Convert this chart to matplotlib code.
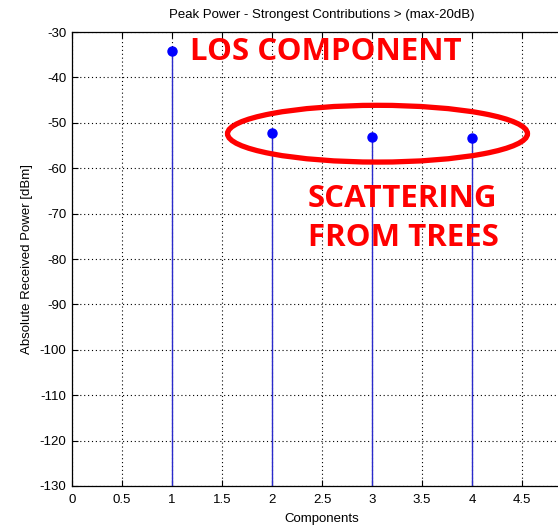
import matplotlib
matplotlib.use("Agg")
import matplotlib.pyplot as plt
from matplotlib.patches import Ellipse

# Peak power of the strongest multipath contributions
components = [1, 2, 3, 4]
power_dbm = [-34.2, -52.2, -53.1, -53.4]

x_ticks = [0, 0.5, 1, 1.5, 2, 2.5, 3, 3.5, 4, 4.5]
x_tick_labels = ["0", "0.5", "1", "1.5", "2", "2.5", "3", "3.5", "4", "4.5"]
y_ticks = [-130, -120, -110, -100, -90, -80, -70, -60, -50, -40, -30]
y_tick_labels = [str(v) for v in y_ticks]

title = "Peak Power - Strongest Contributions > (max-20dB)"
x_label = "Components"
y_label = "Absolute Received Power [dBm]"
los_label = "LOS COMPONENT"
scatter_label = "SCATTERING\nFROM TREES"

W, H = 558, 527
fig = plt.figure(figsize=(W / 100, H / 100), dpi=100)
fig.patch.set_facecolor("white")

left_px, right_px, top_px, bottom_px = 72, 572, 32, 486
ax = fig.add_axes([left_px / W, 1 - bottom_px / H,
                   (right_px - left_px) / W, (bottom_px - top_px) / H])

ax.set_xlim(0, 5)
ax.set_ylim(-130, -30)

markerline, stemlines, baseline = ax.stem(components, power_dbm, bottom=-130,
                                          basefmt=" ")
plt.setp(stemlines, color="#2a2acc", linewidth=1.0)
plt.setp(markerline, color="#0000ff", marker="o", markersize=6.5,
         markerfacecolor="#0000ff", markeredgecolor="#0000ff")

tick_font = {"family": "Liberation Sans", "size": 9.5}
ax.set_xticks(x_ticks)
ax.set_xticklabels(x_tick_labels, fontdict=tick_font)
ax.set_yticks(y_ticks)
ax.set_yticklabels(y_tick_labels, fontdict=tick_font)
ax.tick_params(direction="in", length=4, width=0.8, colors="black",
               top=True, right=False)
ax.tick_params(axis="x", pad=6)
ax.tick_params(axis="y", pad=4)

ax.grid(True, color="black", linestyle=(0, (1, 2.5)), linewidth=0.8)
for side in ("left", "bottom", "top"):
    ax.spines[side].set_linewidth(0.9)
ax.spines["right"].set_visible(False)

ax.set_title(title, fontsize=9.5, family="Liberation Sans", pad=10)
ax.set_xlabel(x_label, fontsize=9.5, family="Liberation Sans", labelpad=5)
ax.set_ylabel(y_label, fontsize=9.5, family="Liberation Sans", labelpad=5)

# Annotations
ax.text(1.18, -34.4, los_label, color="red", fontsize=22.5, fontweight="bold",
        family="Open Sans", ha="left", va="center")
ax.text(2.36, -71.0, scatter_label, color="red", fontsize=22.5,
        fontweight="bold", family="Open Sans", ha="left", va="center",
        linespacing=1.4)
ax.add_patch(Ellipse((3.055, -52.4), 3.0, 12.5, fill=False,
                     edgecolor="red", linewidth=3.8, zorder=5))

fig.savefig("out.png", dpi=100, facecolor="white")
